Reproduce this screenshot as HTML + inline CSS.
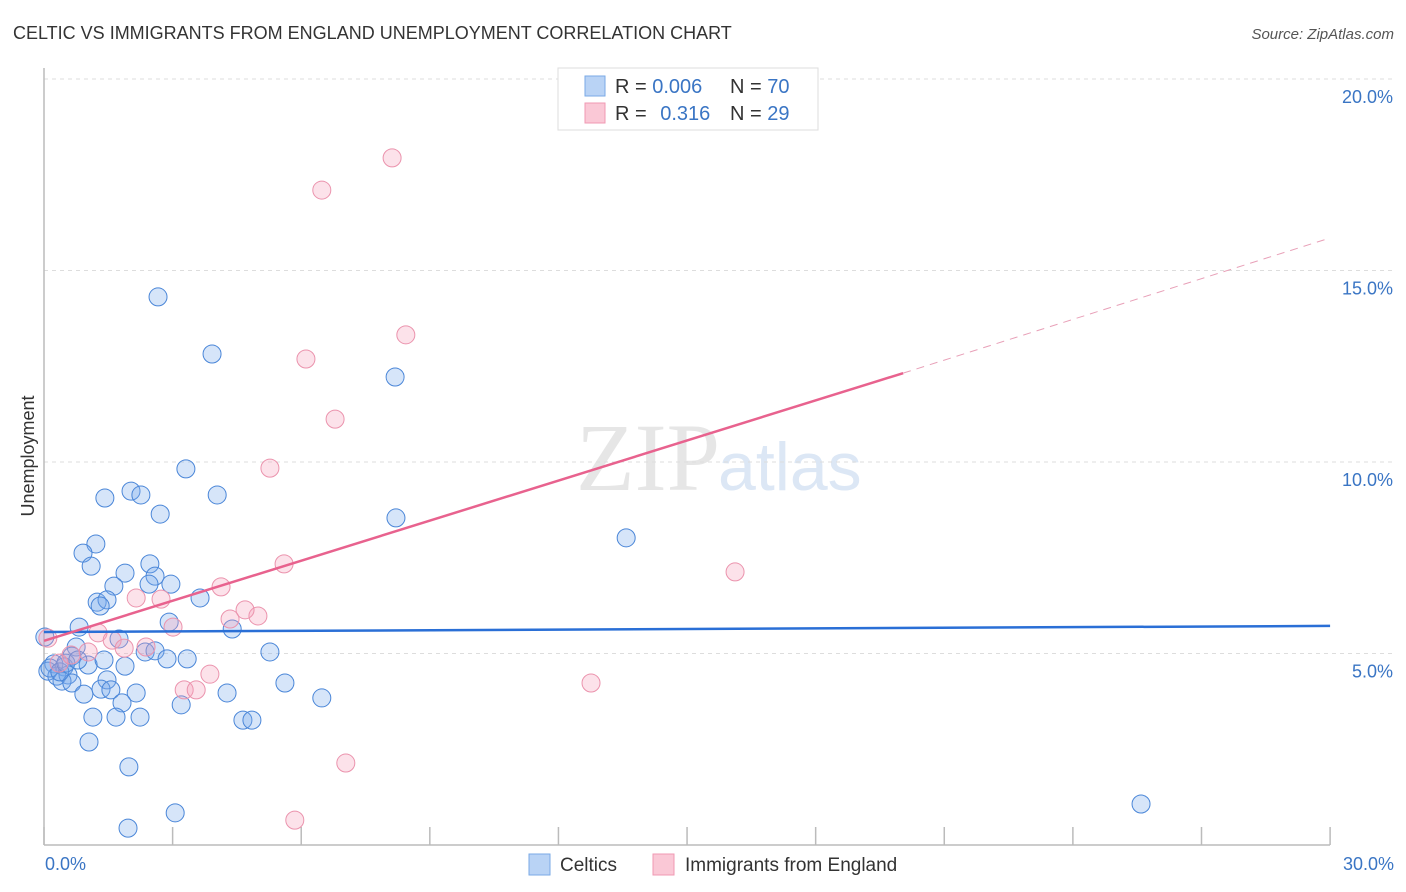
<!DOCTYPE html>
<html><head><meta charset="utf-8"><style>
body{margin:0;background:#fff;width:1406px;height:892px;overflow:hidden;font-family:"Liberation Sans",sans-serif}
</style></head><body>
<svg width="1406" height="892" style="position:absolute;left:0;top:0">
<text x="13" y="39" font-size="18" fill="#333">CELTIC VS IMMIGRANTS FROM ENGLAND UNEMPLOYMENT CORRELATION CHART</text>
<text x="1394" y="39" font-size="15" fill="#555" text-anchor="end" font-style="italic">Source: ZipAtlas.com</text>
<text x="720" y="490" font-size="96" fill="#e6e6e6" text-anchor="end" font-family="Liberation Serif">ZIP</text>
<text x="718" y="490" font-size="68" fill="#dce7f5">atlas</text>
<g id="grid"></g>
<line x1="44" y1="68" x2="44" y2="845" stroke="#bbb" stroke-width="1.5"/>
<line x1="44" y1="845" x2="1330" y2="845" stroke="#bbb" stroke-width="1.5"/>
<g id="xticks"></g>
<text transform="translate(34,456) rotate(-90)" font-size="18" fill="#333" text-anchor="middle">Unemployment</text>
<text x="45" y="870" font-size="18" fill="#3a75c4">0.0%</text>
<text x="1394" y="870" font-size="18" fill="#3a75c4" text-anchor="end">30.0%</text>
<g id="points"></g>
<g id="lines"></g>
<g>
<rect x="558" y="68" width="260" height="62" fill="#fff" stroke="#ddd"/>
<rect x="585" y="76" width="20" height="20" fill="#b9d3f5" stroke="#7aaae6"/>
<rect x="585" y="103" width="20" height="20" fill="#fac8d6" stroke="#f099b3"/>
<text x="615" y="93" font-size="20" fill="#333">R = <tspan fill="#3a75c4">0.006</tspan></text>
<text x="730" y="93" font-size="20" fill="#333">N = <tspan fill="#3a75c4">70</tspan></text>
<text x="615" y="120" font-size="20" fill="#333">R = <tspan fill="#3a75c4" dx="8">0.316</tspan></text>
<text x="730" y="120" font-size="20" fill="#333">N = <tspan fill="#3a75c4">29</tspan></text>
</g>
<g>
<rect x="529" y="854" width="21" height="21" fill="#b9d3f5" stroke="#7aaae6"/>
<text x="560" y="871" font-size="19" fill="#333">Celtics</text>
</g>
<g>
<rect x="653" y="854" width="21" height="21" fill="#fac8d6" stroke="#f099b3"/>
<text x="685" y="871" font-size="19" fill="#333">Immigrants from England</text>
</g>
</svg>
<script>
const blueX=[2.66,3.92,8.19,3.31,4.04,2.03,2.26,1.42,2.71,8.21,13.58,1.21,0.91,1.10,2.47,1.89,2.59,1.63,2.45,2.96,1.24,1.47,1.31,3.64,2.92,4.39,0.82,1.75,0.75,2.36,2.59,5.27,2.87,3.34,0.65,1.03,1.89,0.23,0.47,0.09,0.30,0.56,0.42,0.65,1.47,1.33,1.56,0.93,2.15,4.27,5.62,6.48,3.20,1.82,1.14,1.68,2.24,4.64,4.85,1.05,1.98,3.06,1.96,25.59,0.02,0.14,0.37,0.51,0.79,1.40];
const blueY=[14.31,12.82,12.22,9.82,9.14,9.24,9.14,9.06,8.64,8.54,8.02,7.86,7.62,7.28,7.34,7.10,7.02,6.76,6.81,6.81,6.34,6.40,6.24,6.45,5.82,5.64,5.69,5.38,5.17,5.04,5.07,5.04,4.86,4.86,4.93,4.70,4.67,4.73,4.65,4.54,4.41,4.44,4.28,4.23,4.31,4.07,4.05,3.94,3.97,3.97,4.23,3.84,3.66,3.71,3.34,3.34,3.34,3.26,3.26,2.69,2.04,0.84,0.44,1.07,5.43,4.62,4.52,4.75,4.83,4.83];
const pinkX=[8.12,6.48,8.44,6.11,6.79,5.27,5.60,16.12,4.13,2.15,2.73,4.34,4.99,4.69,3.01,1.26,1.59,2.38,1.87,1.03,0.63,0.35,3.87,3.27,3.55,12.76,7.04,5.85,0.09];
const pinkY=[17.94,17.10,13.32,12.69,11.12,9.84,7.34,7.13,6.74,6.45,6.42,5.90,5.98,6.14,5.69,5.54,5.35,5.17,5.14,5.04,4.96,4.75,4.46,4.05,4.05,4.23,2.14,0.65,5.40];
const yTicks=[5,10,15,20];
const yTickLabels=["5.0%","10.0%","15.0%","20.0%"];
const xTicks=[0,3,6,9,12,15,18,21,24,27,30];
const blueTrend=[5.56,5.72];
const pinkTrend=[5.33,12.32,15.85];
const pinkSolidEnd=20.04;
const sx=v=>44+v*42.87, sy=v=>845-v*38.3;
const NS="http://www.w3.org/2000/svg";
function mk(t,a,p){const e=document.createElementNS(NS,t);for(const k in a)e.setAttribute(k,a[k]);p.appendChild(e);return e;}
const grid=document.getElementById('grid');
yTicks.forEach((v,i)=>{
 const l=mk('line',{x1:44,x2:1394,y1:sy(v),y2:sy(v),stroke:'#ddd','stroke-dasharray':'4,4'},grid);
 
 
 const t=mk('text',{x:1393,y:sy(v)+24,'font-size':18,fill:'#3a75c4','text-anchor':'end'},grid);
 t.textContent=yTickLabels[i];
 
 
});
const xt=document.getElementById('xticks');
xTicks.forEach(v=>{
 const l=mk('line',{x1:sx(v),x2:sx(v),y1:827,y2:845,stroke:'#bbb','stroke-width':1.5},xt);
 
 
});
const pts=document.getElementById('points');
blueX.forEach((x,i)=>{
 const c=mk('circle',{cx:sx(x),cy:sy(blueY[i]),r:9,fill:'rgba(120,170,235,0.3)',stroke:'#4a86d8','stroke-width':1},pts);
 
 
});
pinkX.forEach((x,i)=>{
 const c=mk('circle',{cx:sx(x),cy:sy(pinkY[i]),r:9,fill:'rgba(245,160,185,0.3)',stroke:'#eb93ad','stroke-width':1},pts);
 
 
});
const ln=document.getElementById('lines');
const b=mk('line',{x1:sx(0),y1:sy(blueTrend[0]),x2:sx(30),y2:sy(blueTrend[1]),stroke:'#2a6fd6','stroke-width':2.5},ln);


const p=mk('line',{x1:sx(0),y1:sy(pinkTrend[0]),x2:sx(pinkSolidEnd),y2:sy(pinkTrend[1]),stroke:'#e8628e','stroke-width':2.5},ln);


const pd=mk('line',{x1:sx(pinkSolidEnd),y1:sy(pinkTrend[1]),x2:sx(30),y2:sy(pinkTrend[2]),stroke:'#e8a0b8','stroke-width':1,'stroke-dasharray':'8,6'},ln);


</script>
</body></html>
